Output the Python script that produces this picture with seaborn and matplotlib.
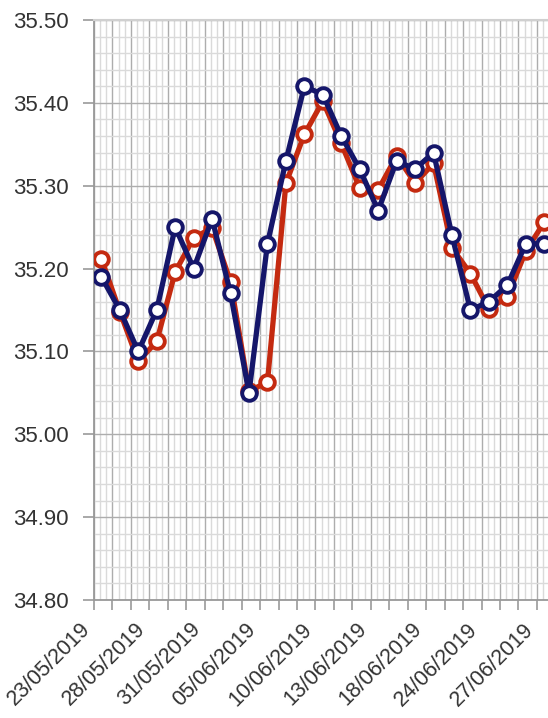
import matplotlib
matplotlib.use("Agg")
import matplotlib.pyplot as plt
import matplotlib.ticker as mticker
import matplotlib.transforms as mtrans
import numpy as np
import pandas as pd
import seaborn as sns

dates = ["23/05/2019", "24/05/2019", "27/05/2019", "28/05/2019", "29/05/2019",
         "30/05/2019", "31/05/2019", "03/06/2019", "04/06/2019", "05/06/2019",
         "06/06/2019", "07/06/2019", "10/06/2019", "11/06/2019", "12/06/2019",
         "13/06/2019", "14/06/2019", "17/06/2019", "18/06/2019", "19/06/2019",
         "21/06/2019", "24/06/2019", "25/06/2019", "26/06/2019", "27/06/2019"]

blue_vals = [35.19, 35.15, 35.10, 35.15, 35.25, 35.20, 35.26, 35.17, 35.05, 35.23,
             35.33, 35.42, 35.41, 35.36, 35.32, 35.27, 35.33, 35.32, 35.34, 35.24,
             35.15, 35.16, 35.18, 35.23, 35.23]

red_vals = [35.212, 35.148, 35.088, 35.112, 35.196, 35.237, 35.249, 35.184, 35.052, 35.063,
            35.303, 35.362, 35.402, 35.351, 35.297, 35.295, 35.336, 35.303, 35.327, 35.225,
            35.194, 35.151, 35.166, 35.221, 35.256]

y_ticks = [34.80, 34.90, 35.00, 35.10, 35.20, 35.30, 35.40, 35.50]
label_every = 3

BLUE = "#15166a"
RED = "#c42a10"
TEXT = "#333333"

df = pd.DataFrame({"idx": np.arange(len(dates)), "date": dates,
                   "blue": blue_vals, "red": red_vals})

sns.set_theme(style="white")
plt.rcParams["font.family"] = ["Liberation Sans", "DejaVu Sans"]

fig = plt.figure(figsize=(5.48, 7.18), dpi=100)
ax = fig.add_axes([94 / 548, 1 - 600 / 718, 1 - 94 / 548 + 0.01, 580 / 718])

common = dict(marker="o", markersize=10.5, markerfacecolor="white",
              markeredgewidth=2.8, linewidth=3.8, ax=ax, legend=False)
sns.lineplot(data=df, x="idx", y="red", color=RED, markeredgecolor=RED, zorder=3, **common)
sns.lineplot(data=df, x="idx", y="blue", color=BLUE, markeredgecolor=BLUE, zorder=4, **common)

ax.set_ylim(34.80, 35.50)
ax.set_xlim(-0.4, len(dates) - 1 + 0.5)

ax.yaxis.set_major_locator(mticker.FixedLocator(y_ticks))
ax.yaxis.set_major_formatter(mticker.FormatStrFormatter("%.2f"))
ax.yaxis.set_minor_locator(mticker.MultipleLocator(0.02))

edges = df["idx"].to_numpy() - 0.4
ax.xaxis.set_major_locator(mticker.FixedLocator(edges))
ax.xaxis.set_major_formatter(mticker.FixedFormatter(
    [d if i % label_every == 0 else "" for i, d in enumerate(dates)]))
minor = np.concatenate([edges + 1 / 3, edges + 2 / 3])
ax.xaxis.set_minor_locator(mticker.FixedLocator(minor))

ax.grid(which="major", color="#adadad", linewidth=1.0)
ax.grid(which="minor", color="#dadada", linewidth=1.0)
ax.set_axisbelow(True)

ax.tick_params(axis="y", which="major", length=8, width=1.2, color="#999999",
               labelsize=16, labelcolor=TEXT, pad=10, left=True)
ax.tick_params(axis="x", which="major", length=7, width=1.2, color="#999999",
               labelsize=15.5, labelcolor=TEXT, pad=12, bottom=True)
ax.tick_params(which="minor", length=0)

shift = mtrans.ScaledTranslation(-7 / 100, 0, fig.dpi_scale_trans)
for lab in ax.get_xticklabels():
    lab.set_rotation(45)
    lab.set_ha("right")
    lab.set_va("center")
    lab.set_rotation_mode("anchor")
    lab.set_transform(lab.get_transform() + shift)

for side in ["left", "bottom"]:
    ax.spines[side].set_color("#999999")
    ax.spines[side].set_linewidth(1.3)
ax.spines["top"].set_color("#d0d0d0")
ax.spines["top"].set_linewidth(1.5)
ax.spines["right"].set_visible(False)

ax.set_xlabel("")
ax.set_ylabel("")

fig.savefig("out.png", dpi=100)
